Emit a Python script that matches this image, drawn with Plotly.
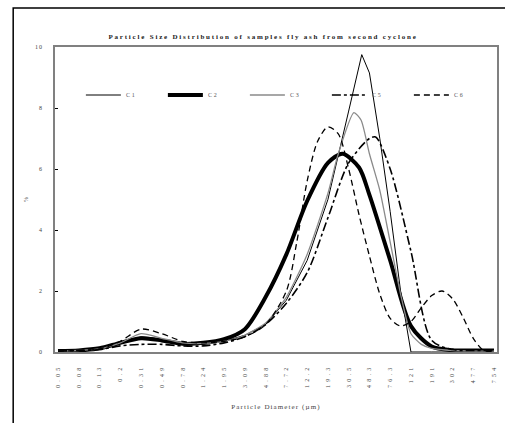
import plotly.graph_objects as go

# Category labels on the x axis (particle diameter, µm)
tick_labels = ["0.05", "0.08", "0.13", "0.2", "0.31", "0.49", "0.78", "1.24", "1.95",
               "3.09", "4.88", "7.72", "12.2", "19.3", "30.5", "48.3", "76.3", "121",
               "191", "302", "477", "754"]

# Series: x given as category position (0 = first label), y in %
c1_x = [0, 1, 2, 3, 3.5, 4, 4.5, 5, 6, 7, 8, 9, 10, 11, 12, 13, 13.5, 14, 14.63, 15, 15.5, 16, 16.5, 17, 18, 19, 20, 21]
c1_y = [0.03, 0.05, 0.1, 0.3, 0.42, 0.5, 0.47, 0.4, 0.26, 0.25, 0.35, 0.55, 0.9, 1.7, 3.0, 5.0, 6.4, 7.9, 9.75, 9.15, 7.0, 4.6, 2.0, 0.0, 0.0, 0.0, 0.0, 0.0]

c2_x = [0, 1, 2, 3, 4, 5, 6, 7, 8, 9, 10, 11, 12, 13, 13.7, 14.5, 15, 16, 17, 18, 19, 20, 21]
c2_y = [0.03, 0.05, 0.12, 0.3, 0.45, 0.38, 0.27, 0.3, 0.42, 0.75, 1.8, 3.2, 4.95, 6.2, 6.5, 6.05, 5.15, 3.0, 0.85, 0.18, 0.06, 0.05, 0.05]

c3_x = [0, 1, 2, 3, 4, 5, 6, 7, 8, 9, 10, 11, 12, 13, 13.5, 14.25, 14.6, 15, 15.5, 16, 16.5, 17, 17.5, 18, 19, 20, 21]
c3_y = [0.03, 0.05, 0.1, 0.3, 0.6, 0.45, 0.3, 0.28, 0.35, 0.55, 0.95, 1.8, 3.2, 5.2, 6.5, 7.85, 7.6, 6.5, 5.3, 3.6, 1.9, 0.6, 0.25, 0.12, 0.05, 0.03, 0.03]

c5_x = [0, 1, 2, 3, 4, 5, 6, 7, 8, 9, 10, 11, 12, 13, 14, 15, 15.3, 16, 17, 18, 19, 20, 21]
c5_y = [0.03, 0.05, 0.08, 0.2, 0.25, 0.25, 0.2, 0.2, 0.3, 0.5, 0.9, 1.6, 2.6, 4.4, 6.2, 7.0, 7.05, 6.0, 3.3, 0.38, 0.08, 0.05, 0.05]

c6_x = [0, 1, 2, 3, 4, 5, 6, 7, 8, 9, 10, 11, 11.5, 12, 12.5, 13, 13.5, 14, 14.5, 15, 15.5, 16, 16.5, 17, 17.5, 18, 18.5, 19, 19.5, 20, 20.5, 21]
c6_y = [0.03, 0.05, 0.1, 0.35, 0.75, 0.6, 0.35, 0.3, 0.35, 0.5, 0.9, 2.0, 3.6, 5.6, 6.9, 7.38, 7.15, 6.0, 4.5, 3.15, 1.9, 1.1, 0.85, 1.0, 1.45, 1.85, 2.0, 1.75, 1.15, 0.45, 0.05, 0.03]

FONT = "Liberation Serif"

fig = go.Figure()
fig.add_trace(go.Scatter(x=c1_x, y=c1_y, name="C1", mode="lines",
                         line=dict(color="black", width=1, shape="linear")))
fig.add_trace(go.Scatter(x=c2_x, y=c2_y, name="C2", mode="lines",
                         line=dict(color="black", width=4, shape="spline", smoothing=0.8)))
fig.add_trace(go.Scatter(x=c3_x, y=c3_y, name="C3", mode="lines",
                         line=dict(color="#8a8a8a", width=1.3, shape="spline", smoothing=0.6)))
fig.add_trace(go.Scatter(x=c5_x, y=c5_y, name="C5", mode="lines",
                         line=dict(color="black", width=1.6, dash="dashdot", shape="spline", smoothing=0.8)))
fig.add_trace(go.Scatter(x=c6_x, y=c6_y, name="C6", mode="lines",
                         line=dict(color="black", width=1.3, dash="6px,4px", shape="spline", smoothing=0.8)))

W, H = 505, 423
L, R, T, B = 55, 6, 47, 71
pw, ph = W - L - R, H - T - B

fig.update_layout(
    width=W, height=H,
    margin=dict(l=L, r=R, t=T, b=B),
    paper_bgcolor="white", plot_bgcolor="white",
    font=dict(family=FONT, color="#333333", size=6),
    title=dict(text="Particle Size Distribution of samples fly ash from second cyclone",
               x=263 / W, xref="container", xanchor="center",
               y=1 - 37 / H, yref="container", yanchor="middle",
               font=dict(family=FONT, size=7, color="#222222", weight="bold")),
    legend=dict(orientation="h", x=(81 - L) / pw, xanchor="left",
                y=(352 - 95) / ph, yanchor="middle",
                entrywidth=32, entrywidthmode="pixels", itemwidth=35,
                bgcolor="rgba(0,0,0,0)", font=dict(family=FONT, size=6, color="#555555")),
    showlegend=True,
)

fig.update_xaxes(
    range=[-0.144, 21.144], tickmode="array", tickvals=list(range(len(tick_labels))),
    ticktext=tick_labels, tickangle=-90, ticks="", showgrid=False, zeroline=False,
    showline=True, linecolor="#808080", linewidth=2, mirror=True,
    tickfont=dict(family=FONT, size=6, color="#444444"), ticklabelstandoff=8,
    title=dict(text="Particle Diameter (µm)", font=dict(family=FONT, size=7, color="#444444"), standoff=30),
)
fig.update_yaxes(
    range=[0, 10], tickvals=[0, 2, 4, 6, 8, 10], ticks="inside", ticklen=3, tickcolor="black",
    showgrid=False, zeroline=False, showline=True, linecolor="#808080", linewidth=1.5, mirror=True,
    tickfont=dict(family=FONT, size=6, color="#444444"), ticklabelstandoff=9,
    title=dict(text="%", font=dict(family=FONT, size=6, color="#444444"), standoff=8),
)

# outer chart-area frame
fig.add_shape(type="rect", xref="paper", yref="paper",
              x0=(13 - L) / pw, x1=(W + 5 - L) / pw, y0=(352 - (H + 5)) / ph, y1=(352 - 8) / ph,
              line=dict(color="black", width=1.5), layer="below")

post = ("document.body.style.margin='0';document.body.style.overflow='hidden';"
        "var s=document.createElement('style');"
        "s.textContent='.gtitle{letter-spacing:1.8px}.xtitle{letter-spacing:1.1px}"
        ".xtick text{letter-spacing:3.3px}.ytick text{letter-spacing:1px}.legendtext{letter-spacing:1.8px}';"
        "document.head.appendChild(s);")
fig.write_html("out.html", post_script=post, config={"displayModeBar": False})
